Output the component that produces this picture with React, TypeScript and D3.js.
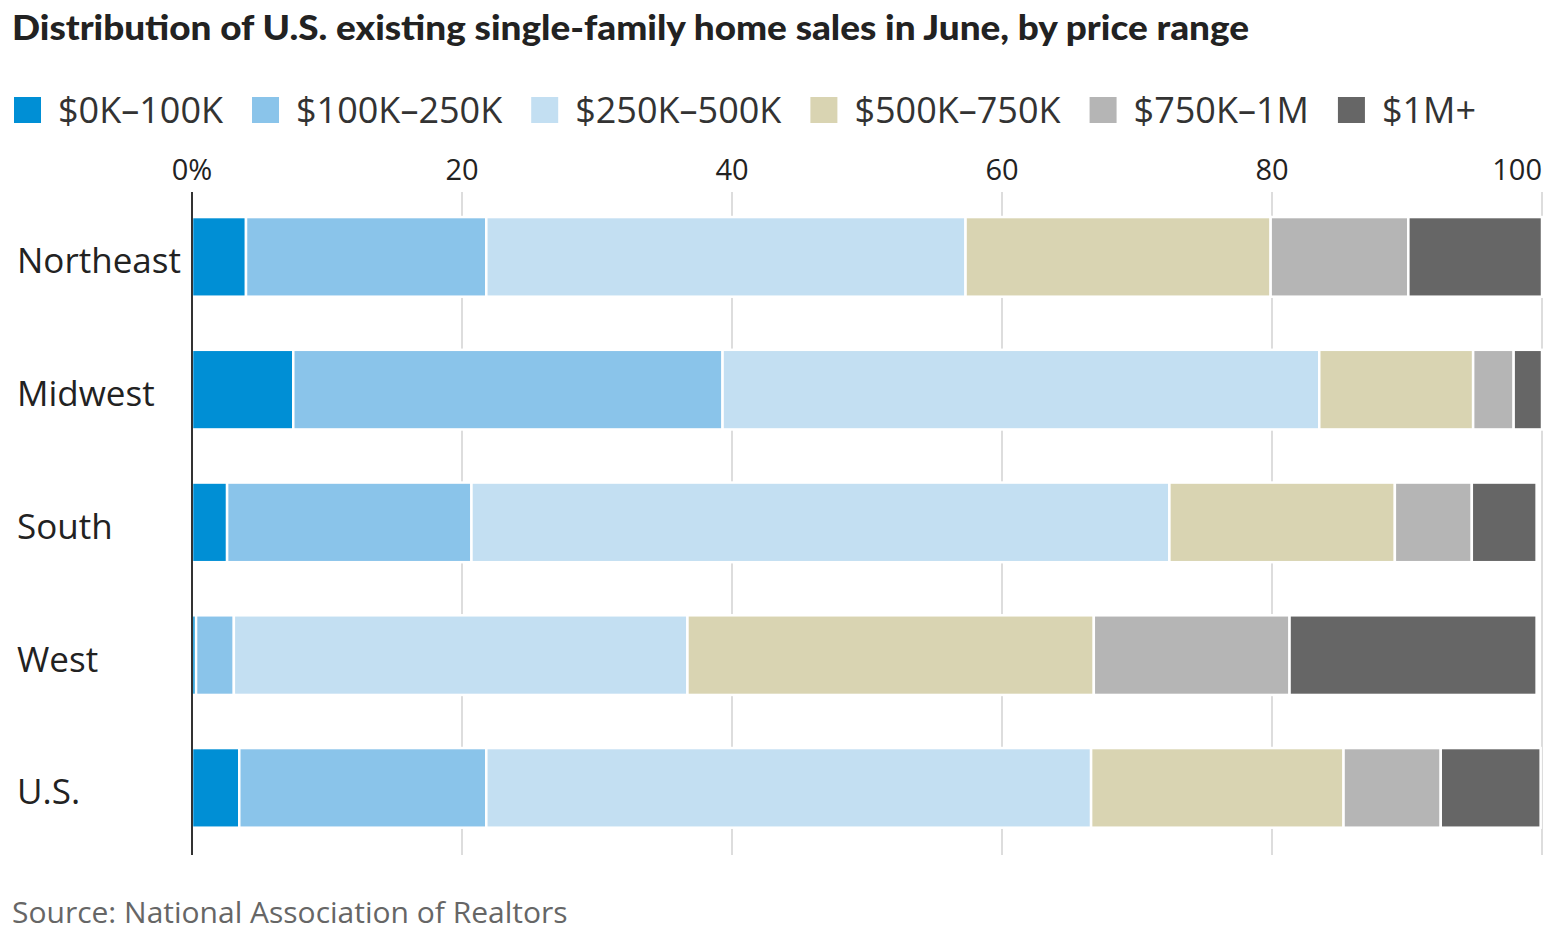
import { useEffect, useRef } from 'react';
import * as d3 from 'd3';

const regions = ['Northeast', 'Midwest', 'South', 'West', 'U.S.'];
const priceRanges = ['$0K–100K', '$100K–250K', '$250K–500K', '$500K–750K', '$750K–1M', '$1M+'];
const colors = ['#008fd5', '#8ac4ea', '#c3dff2', '#d9d4b2', '#b5b5b5', '#666666'];

// share of sales (%) per region, one array per price range
const range0to100 = [4.0, 7.5, 2.6, 0.3, 3.5];
const range100to250 = [17.8, 31.8, 18.1, 2.8, 18.3];
const range250to500 = [35.5, 44.2, 51.7, 33.6, 44.8];
const range500to750 = [22.6, 11.4, 16.7, 30.1, 18.7];
const range750to1m = [10.2, 3.0, 5.7, 14.5, 7.2];
const range1mPlus = [9.9, 2.1, 4.8, 18.3, 7.4];

const xTicks = [0, 20, 40, 60, 80, 100];
const xTickLabels = ['0%', '20', '40', '60', '80', '100'];

const W = 1565;
const H = 932;
const FONT = '"Open Sans", "Noto Sans", sans-serif';

const App = () => {
    const svgRef = useRef<SVGSVGElement>(null);

    useEffect(() => {
        if (!svgRef.current) return;
        const svg = d3.select(svgRef.current);
        svg.selectAll('*').remove();

        const series = [range0to100, range100to250, range250to500, range500to750, range750to1m, range1mPlus];
        const rows = regions.map((r, i) => {
            const row: any = { region: r };
            priceRanges.forEach((p, j) => { row[p] = series[j][i]; });
            return row;
        });
        const stacked = d3.stack().keys(priceRanges)(rows);

        const x = d3.scaleLinear().domain([0, 100]).range([192, 1542]);
        const y = d3.scaleBand().domain(regions).range([190.5, 854.25]).paddingInner(0.4).paddingOuter(0.2);
        const color = d3.scaleOrdinal<string>().domain(priceRanges).range(colors);

        // title
        svg.append('text')
            .attr('x', 12).attr('y', 40)
            .attr('font-family', 'Lato, "Open Sans", sans-serif')
            .attr('font-weight', 900)
            .attr('font-size', 35)
            .attr('fill', '#222')
            .attr('textLength', 1237)
            .attr('lengthAdjust', 'spacingAndGlyphs')
            .text('Distribution of U.S. existing single-family home sales in June, by price range');

        // legend, laid out left to right
        const legend = svg.append('g');
        let lx = 14;
        priceRanges.forEach(p => {
            legend.append('rect')
                .attr('x', lx).attr('y', 97)
                .attr('width', 27).attr('height', 26)
                .attr('fill', color(p));
            const t = legend.append('text')
                .attr('x', lx + 44).attr('y', 123)
                .attr('font-family', FONT)
                .attr('font-size', 36)
                .attr('fill', '#333')
                .text(p);
            const w = (t.node() as SVGTextElement).getComputedTextLength();
            lx = lx + 44 + w + 29;
        });

        // grid lines
        svg.append('g')
            .selectAll('line')
            .data(xTicks.filter(d => d > 0))
            .join('line')
            .attr('x1', d => x(d)).attr('x2', d => x(d))
            .attr('y1', 192).attr('y2', 855)
            .attr('stroke', '#dddddd')
            .attr('stroke-width', 2);

        // tick labels
        svg.append('g')
            .selectAll('text')
            .data(xTicks)
            .join('text')
            .attr('x', d => x(d))
            .attr('y', 180)
            .attr('text-anchor', d => (d === 100 ? 'end' : 'middle'))
            .attr('font-family', FONT)
            .attr('font-size', 29)
            .attr('fill', '#222')
            .text((d, i) => xTickLabels[i]);

        // bars
        svg.append('g')
            .selectAll('g')
            .data(stacked)
            .join('g')
            .attr('fill', d => color(d.key))
            .selectAll('rect')
            .data(d => d)
            .join('rect')
            .attr('x', d => x(d[0]))
            .attr('y', d => y(d.data.region as string)!)
            .attr('width', d => Math.max(0, x(d[1]) - x(d[0])))
            .attr('height', y.bandwidth())
            .attr('stroke', '#fff')
            .attr('stroke-width', 2.5);

        // zero axis line
        svg.append('line')
            .attr('x1', x(0)).attr('x2', x(0))
            .attr('y1', 192).attr('y2', 855)
            .attr('stroke', '#333')
            .attr('stroke-width', 2);

        // region labels
        svg.append('g')
            .selectAll('text')
            .data(regions)
            .join('text')
            .attr('x', 17)
            .attr('y', d => y(d)! + y.bandwidth() / 2 + 16.5)
            .attr('font-family', FONT)
            .attr('font-size', 35)
            .attr('fill', '#222')
            .text(d => d);

        // source
        svg.append('text')
            .attr('x', 12).attr('y', 923)
            .attr('font-family', FONT)
            .attr('font-size', 30)
            .attr('fill', '#666')
            .text('Source: National Association of Realtors');
    }, []);

    return (
        <svg
            ref={svgRef}
            width={W}
            height={H}
            style={{ position: 'absolute', left: 0, top: 0, background: '#fff' }}
        />
    );
};

export default App;
